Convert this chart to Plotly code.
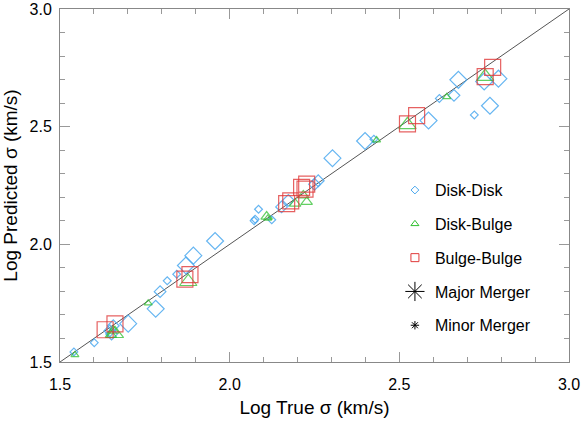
import plotly.graph_objects as go

# Disk-Disk mergers (diamonds); size class 1 = small, 2 = medium, 3 = large
dd_true = [1.541, 1.601, 1.647, 1.652, 1.657, 1.701, 1.782, 1.795, 1.816, 1.844,
           1.871, 1.893, 1.957, 2.085, 2.075, 2.072, 2.124, 2.153, 2.173, 2.261,
           2.250, 2.303, 2.399, 2.425, 2.586, 2.618, 2.661, 2.674, 2.721, 2.767,
           2.750, 2.792]
dd_pred = [1.543, 1.582, 1.633, 1.619, 1.654, 1.663, 1.726, 1.799, 1.845, 1.873,
           1.910, 1.952, 2.014, 2.149, 2.107, 2.100, 2.104, 2.159, 2.187, 2.270,
           2.255, 2.366, 2.439, 2.447, 2.526, 2.620, 2.633, 2.699, 2.550, 2.589,
           2.692, 2.704]
dd_cls = [1, 1, 2, 2, 2, 3, 3, 2, 1, 1,
          3, 3, 3, 1, 1, 1, 1, 2, 2, 2,
          2, 3, 3, 1, 3, 1, 2, 3, 1, 3,
          3, 3]

# Disk-Bulge mergers (triangles)
db_true = [1.544, 1.657, 1.662, 1.650, 1.760, 1.878, 2.109, 2.112, 2.193, 2.217,
           2.227, 2.433, 2.524, 2.640, 2.753]
db_pred = [1.530, 1.633, 1.620, 1.615, 1.750, 1.841, 2.118, 2.110, 2.173, 2.208,
           2.180, 2.443, 2.508, 2.627, 2.713]
db_cls = [1, 2, 3, 2, 1, 3, 2, 1, 2, 2,
          2, 1, 3, 1, 3]

# Bulge-Bulge mergers (squares)
bb_true = [1.633, 1.662, 1.868, 1.883, 2.168, 2.180, 2.212, 2.222, 2.227, 2.524,
           2.551, 2.753, 2.775]
bb_pred = [1.637, 1.662, 1.852, 1.871, 2.173, 2.185, 2.242, 2.235, 2.256, 2.512,
           2.547, 2.713, 2.752]
bb_cls = [3, 3, 3, 3, 3, 3, 3, 3, 3, 3,
          3, 3, 3]

one_to_one = [1.5, 3.0]

BLUE = "#4aa8ee"
GREEN = "#2fbf2f"
RED = "#e03a3a"
FONT = "Liberation Sans, Arial, Helvetica, sans-serif"

dia_px = {1: 6, 2: 9, 3: 13}
tri_px = {1: 7, 2: 10, 3: 15}
sq_px = {1: 7, 2: 11, 3: 16}

fig = go.Figure()

fig.add_trace(go.Scatter(x=one_to_one, y=one_to_one, mode="lines",
                         line=dict(color="#555555", width=1),
                         showlegend=False, hoverinfo="skip"))

fig.add_trace(go.Scatter(x=dd_true, y=dd_pred, mode="markers", showlegend=False,
                         marker=dict(symbol="diamond-open", color=BLUE, opacity=0.85,
                                     size=[dia_px[c] for c in dd_cls],
                                     line=dict(width=1.2))))
fig.add_trace(go.Scatter(x=db_true, y=db_pred, mode="markers", showlegend=False,
                         marker=dict(symbol="triangle-up-open", color=GREEN, opacity=0.75,
                                     size=[tri_px[c] for c in db_cls],
                                     line=dict(width=1.2))))
fig.add_trace(go.Scatter(x=bb_true, y=bb_pred, mode="markers", showlegend=False,
                         marker=dict(symbol="square-open", color=RED, opacity=0.8,
                                     size=[sq_px[c] for c in bb_cls],
                                     line=dict(width=1.2))))

# legend entries
legend_items = [
    ("Disk-Disk", "diamond-open", BLUE, 6),
    ("Disk-Bulge", "triangle-up-open", GREEN, 7),
    ("Bulge-Bulge", "square-open", RED, 8),
    ("Major Merger", "asterisk-open", "black", 18),
    ("Minor Merger", "asterisk-open", "black", 7),
]
for i, (name, sym, col, sz) in enumerate(legend_items):
    fig.add_trace(go.Scatter(x=[None], y=[None], mode="markers", name=name,
                             legendgroup=f"g{i}",
                             marker=dict(symbol=sym, color=col, size=sz,
                                         line=dict(width=1, color=col))))

axis_common = dict(
    range=[1.5, 3.0],
    dtick=0.5,
    tickformat=".1f",
    ticks="inside",
    ticklen=10,
    tickcolor="#999999",
    showline=True,
    linecolor="#888888",
    linewidth=1,
    mirror="ticks",
    showgrid=False,
    zeroline=False,
    automargin=False,
    ticklabeloverflow="allow",
    tickfont=dict(family=FONT, size=16, color="black"),
    minor=dict(dtick=0.1, ticks="inside", ticklen=5, tickcolor="#999999"),
)

fig.update_layout(
    width=581,
    height=422,
    margin=dict(l=60, r=12, t=9, b=60),
    paper_bgcolor="white",
    plot_bgcolor="white",
    font=dict(family=FONT, size=16, color="black"),
    xaxis=dict(axis_common, ticklabelstandoff=8,
               title=dict(text="Log True σ (km/s)", standoff=8)),
    yaxis=dict(axis_common, ticklabelstandoff=4,
               title=dict(text="Log Predicted σ (km/s)", standoff=10)),
    legend=dict(x=0.658, y=0.535, xanchor="left", yanchor="top",
                bgcolor="rgba(0,0,0,0)", tracegroupgap=10,
                font=dict(family=FONT, size=16)),
)

# drop the default page margin so the figure sits at the window's corner
fig.write_html("out.html", config={"displayModeBar": False},
               post_script="document.body.style.margin='0';")
